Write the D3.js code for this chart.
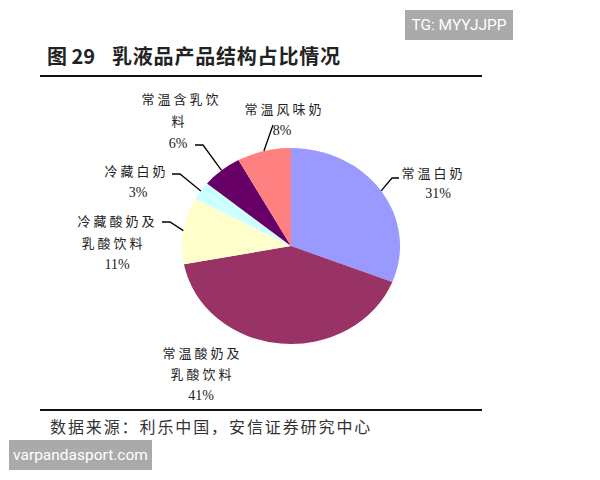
<!DOCTYPE html>
<html><head><meta charset="utf-8">
<script src="https://cdn.jsdelivr.net/npm/d3@7"></script>
<style>body{margin:0;background:#fff}svg{display:block}</style>
</head><body>
<script>
const categories = ["常温白奶","常温酸奶及乳酸饮料","冷藏酸奶及乳酸饮料","冷藏白奶","常温含乳饮料","常温风味奶"];
const values = [31, 41, 11, 3, 6, 8];
const colors = ["#9999FF","#993366","#FFFFCC","#CCFFFF","#660066","#FF8080"];
const labelLines = [["常温白奶","31%"],["常温酸奶及","乳酸饮料","41%"],["冷藏酸奶及","乳酸饮料","11%"],["冷藏白奶","3%"],["常温含乳饮","料","6%"],["常温风味奶","8%"]];

const W=600,H=480;
const svg=d3.select("body").append("svg").attr("width",W).attr("height",H);
const cx=291, cy=246, rx=109, ry=98;

// title
svg.append("text").attr("x",47).attr("y",64).attr("font-family","Noto Sans CJK SC").attr("font-weight",700)
  .attr("font-size",20).attr("fill","#222").text("图 29");
svg.append("text").attr("x",112).attr("y",64).attr("font-family","Noto Sans CJK SC").attr("font-weight",700)
  .attr("font-size",20).attr("letter-spacing",0.8).attr("fill","#222").text("乳液品产品结构占比情况");
svg.append("line").attr("x1",40).attr("x2",482).attr("y1",76).attr("y2",76).attr("stroke","#111").attr("stroke-width",2);
svg.append("line").attr("x1",40).attr("x2",482).attr("y1",410).attr("y2",410).attr("stroke","#111").attr("stroke-width",2);
svg.append("text").attr("x",50).attr("y",433).attr("font-family","Noto Sans CJK SC").attr("font-size",16)
  .attr("letter-spacing",1.9).attr("fill","#333").text("数据来源：利乐中国，安信证券研究中心");

// pie
const pie=d3.pie().sort(null).value(d=>d)(values);
const arc=d3.arc().innerRadius(0).outerRadius(100);
const g=svg.append("g").attr("transform",`translate(${cx},${cy}) scale(${rx/100},${ry/100})`);
g.selectAll("path").data(pie).join("path").attr("d",arc).attr("fill",(d,i)=>colors[i]);

function edge(d){const a=(d.startAngle+d.endAngle)/2;return [cx+rx*Math.sin(a), cy-ry*Math.cos(a)];}
// leader elbows and label layout
const layout=[
  {elbow:[392,178],end:[399,178],pos:[[432,172],[438,193]]},
  {elbow:null,pos:[[201,352],[201,373],[201,395]]},
  {elbow:[170,222],end:[162,222],pos:[[116,220],[112,242],[117,264]]},
  {elbow:[180,174],end:[172,174],pos:[[135,170],[138,192]]},
  {elbow:[203,145],end:[195,145],pos:[[180,98],[178,120],[178,143]]},
  {elbow:[273,125],end:null,pos:[[283,108],[282,130]]}
];
pie.forEach((d,i)=>{
  const L=layout[i];
  if(L.elbow){
    const pts=[edge(d),L.elbow]; if(L.end) pts.push(L.end);
    svg.append("path").attr("d",d3.line()(pts)).attr("fill","none").attr("stroke","#000").attr("stroke-width",1.3);
  }
  labelLines[i].forEach((t,j)=>{
    const isPct=/%$/.test(t);
    svg.append("text").attr("x",L.pos[j][0]).attr("y",L.pos[j][1]).attr("text-anchor","middle")
      .attr("dominant-baseline","central")
      .attr("font-family",isPct?"Liberation Serif":"Noto Sans CJK SC")
      .attr("font-size",isPct?14:13).attr("letter-spacing",isPct?0:3).attr("dx",isPct?0:1.5)
      .attr("fill","#222").text(t);
  });
});

// watermarks
svg.append("rect").attr("x",405).attr("y",10).attr("width",108).attr("height",30).attr("fill","#aaaaaa");
svg.append("text").attr("x",459).attr("y",25).attr("text-anchor","middle").attr("dominant-baseline","central")
  .attr("font-family","Roboto").attr("font-size",15.5).attr("fill","#fff").text("TG: MYYJJPP");
svg.append("rect").attr("x",9).attr("y",440).attr("width",143).attr("height",30).attr("fill","#aaaaaa");
svg.append("text").attr("x",80.5).attr("y",455).attr("text-anchor","middle").attr("dominant-baseline","central")
  .attr("font-family","Roboto").attr("font-size",15.5).attr("fill","#fff").text("varpandasport.com");
</script>
</body></html>
